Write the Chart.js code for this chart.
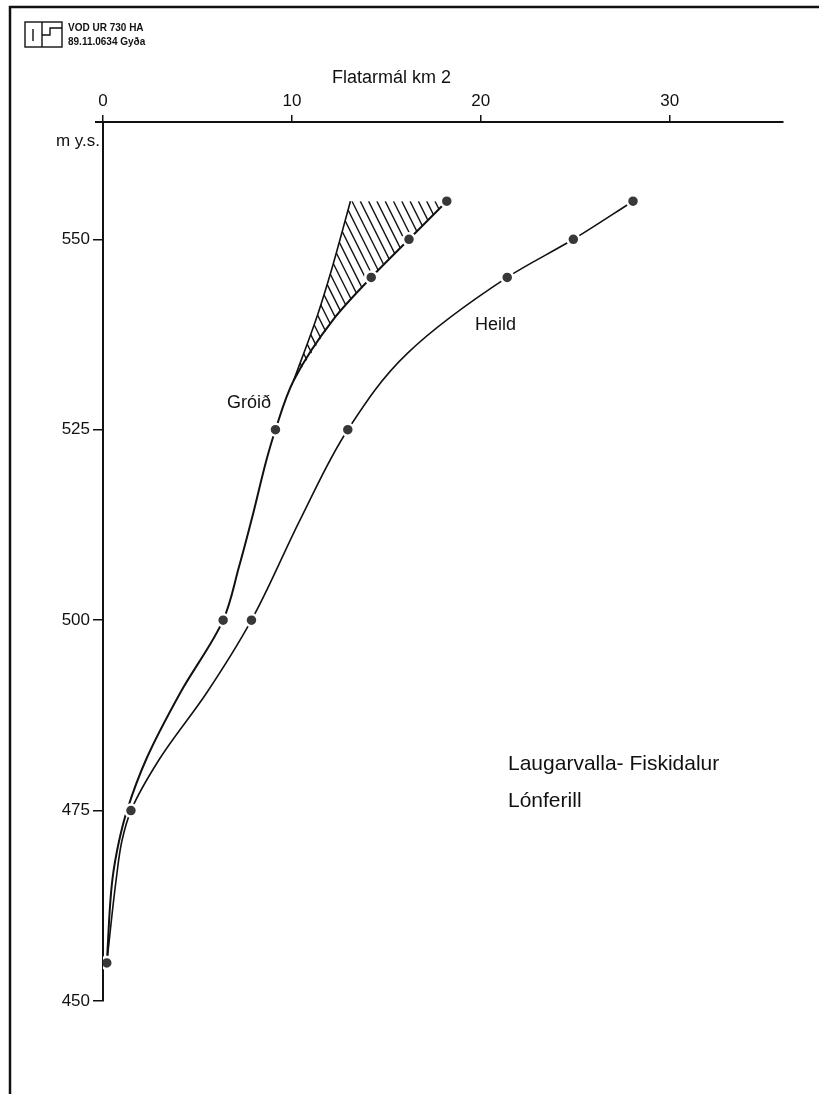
<!DOCTYPE html>
<html><head><meta charset="utf-8">
<script src="https://cdn.jsdelivr.net/npm/chart.js@4.4.1/dist/chart.umd.min.js"></script>
<style>html,body{margin:0;padding:0;background:#fff;}canvas{display:block;}</style>
</head><body>
<canvas id="c" width="819" height="1094"></canvas>
<script>
// ---- data ----
const xTicks = [0, 10, 20, 30];
const yTicks = [450, 475, 500, 525, 550];
const xMin = 0, xMax = 36, yMin = 450, yMax = 565.4;

// curve traces (m y.s. -> km2)
const groidY = [455, 466, 471, 475, 481.8, 490.5, 500, 507, 514, 521, 525, 531.5, 539.5, 545, 550, 555];
const groidX = [0.2, 0.5, 0.85, 1.27, 2.3, 4.1, 6.36, 7.2, 7.95, 8.65, 9.13, 10.1, 12.2, 14.2, 16.2, 18.2];
const heildY = [455, 466, 471, 475, 481.8, 490.5, 500, 513.5, 525, 535, 545, 550, 555];
const heildX = [0.2, 0.7, 1.0, 1.48, 3.0, 5.5, 7.86, 10.5, 12.96, 16.1, 21.4, 24.9, 28.06];

// measured points (dots)
const groidDotY = [455, 500, 525, 545, 550, 555];
const groidDotX = [0.2, 6.36, 9.13, 14.2, 16.2, 18.2];
const heildDotY = [455, 475, 500, 525, 545, 550, 555];
const heildDotX = [0.2, 1.48, 7.86, 12.96, 21.4, 24.9, 28.06];

// hatched area left edge
const hatchEdgeY = [531.5, 540, 546, 555];
const hatchEdgeX = [10.1, 11.35, 12.1, 13.1];

const pts = (xs, ys) => xs.map((x, i) => ({x: x, y: ys[i]}));
const FONT = "'Liberation Sans', Arial, Helvetica, sans-serif";
const INK = '#111';

const hatchPlugin = {
  id: 'hatch',
  beforeDatasetsDraw(chart) {
    const {ctx} = chart;
    const xs = chart.scales.x, ys = chart.scales.y;
    const groidPts = pts(groidX, groidY).filter(p => p.y >= hatchEdgeY[0]).reverse();
    const poly = pts(hatchEdgeX, hatchEdgeY).concat(groidPts)
      .map(p => [xs.getPixelForValue(p.x), ys.getPixelForValue(p.y)]);
    let minX = Infinity, maxX = -Infinity, minY = Infinity, maxY = -Infinity;
    poly.forEach(([px, py]) => { minX = Math.min(minX, px); maxX = Math.max(maxX, px); minY = Math.min(minY, py); maxY = Math.max(maxY, py); });
    ctx.save();
    ctx.beginPath();
    poly.forEach(([px, py], i) => i ? ctx.lineTo(px, py) : ctx.moveTo(px, py));
    ctx.closePath();
    ctx.clip();
    ctx.strokeStyle = INK;
    ctx.lineWidth = 1.4;
    const h = maxY - minY;
    const slope = 0.5;
    for (let sx = minX - h * slope - 10; sx < maxX + 10; sx += 8.3) {
      ctx.beginPath();
      ctx.moveTo(sx, minY);
      ctx.lineTo(sx + h * slope, maxY);
      ctx.stroke();
    }
    ctx.restore();
  }
};

const decorPlugin = {
  id: 'decor',
  afterDraw(chart) {
    const {ctx} = chart;
    const xs = chart.scales.x;
    ctx.save();
    ctx.strokeStyle = INK;
    ctx.fillStyle = INK;
    // frame
    ctx.lineWidth = 2.5;
    ctx.beginPath();
    ctx.moveTo(10, 1094); ctx.lineTo(10, 7); ctx.lineTo(819, 7);
    ctx.stroke();
    // x axis overshoot to the left
    ctx.lineWidth = 2;
    ctx.beginPath();
    ctx.moveTo(xs.left - 8, xs.bottom); ctx.lineTo(xs.left, xs.bottom);
    ctx.stroke();
    // logo
    ctx.lineWidth = 1.4;
    ctx.strokeRect(25, 22, 37, 25);
    ctx.beginPath();
    ctx.moveTo(42, 22); ctx.lineTo(42, 47);
    ctx.moveTo(33, 29); ctx.lineTo(33, 41);
    ctx.moveTo(62, 28); ctx.lineTo(50, 28); ctx.lineTo(50, 35); ctx.lineTo(42, 35);
    ctx.stroke();
    // header text
    ctx.textAlign = 'left';
    ctx.textBaseline = 'alphabetic';
    ctx.font = "bold 10px 'Liberation Sans Narrow', " + FONT;
    ctx.fillText('VOD UR 730 HA', 68, 31);
    ctx.fillText('89.11.0634 Gyða', 68, 45);
    // axis title
    ctx.font = '18px ' + FONT;
    ctx.textBaseline = 'middle';
    ctx.fillText('Flatarmál km 2', 332, 78);
    // y unit
    ctx.font = '17px ' + FONT;
    ctx.textAlign = 'right';
    ctx.fillText('m y.s.', 100, 141);
    // series labels
    ctx.textAlign = 'left';
    ctx.font = '18px ' + FONT;
    ctx.fillText('Gróið', 227, 403);
    ctx.fillText('Heild', 475, 325);
    // caption
    ctx.textBaseline = 'alphabetic';
    ctx.font = '21px ' + FONT;
    ctx.fillText('Laugarvalla- Fiskidalur', 508, 770);
    ctx.fillText('Lónferill', 508, 807);
    ctx.restore();
  }
};

const lineStyle = {type: 'line', indexAxis: 'y', borderColor: INK, pointRadius: 0, fill: false,
  cubicInterpolationMode: 'monotone'};
const dotStyle = {type: 'scatter', pointRadius: 6, pointBackgroundColor: '#383838',
  pointBorderColor: '#fff', pointBorderWidth: 2.5, showLine: false, order: 0};

new Chart(document.getElementById('c'), {
  type: 'scatter',
  data: {
    datasets: [
      Object.assign({}, dotStyle, {label: 'Gróið punktar', data: pts(groidDotX, groidDotY)}),
      Object.assign({}, dotStyle, {label: 'Heild punktar', data: pts(heildDotX, heildDotY)}),
      Object.assign({}, lineStyle, {label: 'Gróið', data: pts(groidX, groidY), borderWidth: 2, order: 1}),
      Object.assign({}, lineStyle, {label: 'Heild', data: pts(heildX, heildY), borderWidth: 1.6, order: 1}),
      Object.assign({}, lineStyle, {label: 'Jaðar', data: pts(hatchEdgeX, hatchEdgeY), borderWidth: 1.6, order: 2})
    ]
  },
  options: {
    responsive: false,
    animation: false,
    events: [],
    devicePixelRatio: 1,
    layout: {padding: {left: 0, top: 0, right: 36, bottom: 93}},
    plugins: {legend: {display: false}, tooltip: {enabled: false}, title: {display: false}},
    scales: {
      x: {
        type: 'linear', position: 'top', min: xMin, max: xMax,
        afterBuildTicks: s => { s.ticks = xTicks.map(v => ({value: v})); },
        afterFit: s => { s.height = 122; },
        grid: {display: true, drawOnChartArea: false, drawTicks: true, tickLength: 7, color: INK, lineWidth: 1.5},
        border: {display: true, color: INK, width: 2},
        ticks: {color: INK, font: {family: FONT, size: 17}, padding: 3, maxRotation: 0, autoSkip: false}
      },
      y: {
        type: 'linear', position: 'left', min: yMin, max: yMax,
        afterBuildTicks: s => { s.ticks = yTicks.map(v => ({value: v})); },
        afterFit: s => { s.width = 103; },
        grid: {display: true, drawOnChartArea: false, drawTicks: true, tickLength: 10, color: INK, lineWidth: 1.5},
        border: {display: true, color: INK, width: 2},
        ticks: {color: INK, font: {family: FONT, size: 17}, padding: 3, autoSkip: false}
      }
    }
  },
  plugins: [hatchPlugin, decorPlugin]
});
</script>
</body></html>
